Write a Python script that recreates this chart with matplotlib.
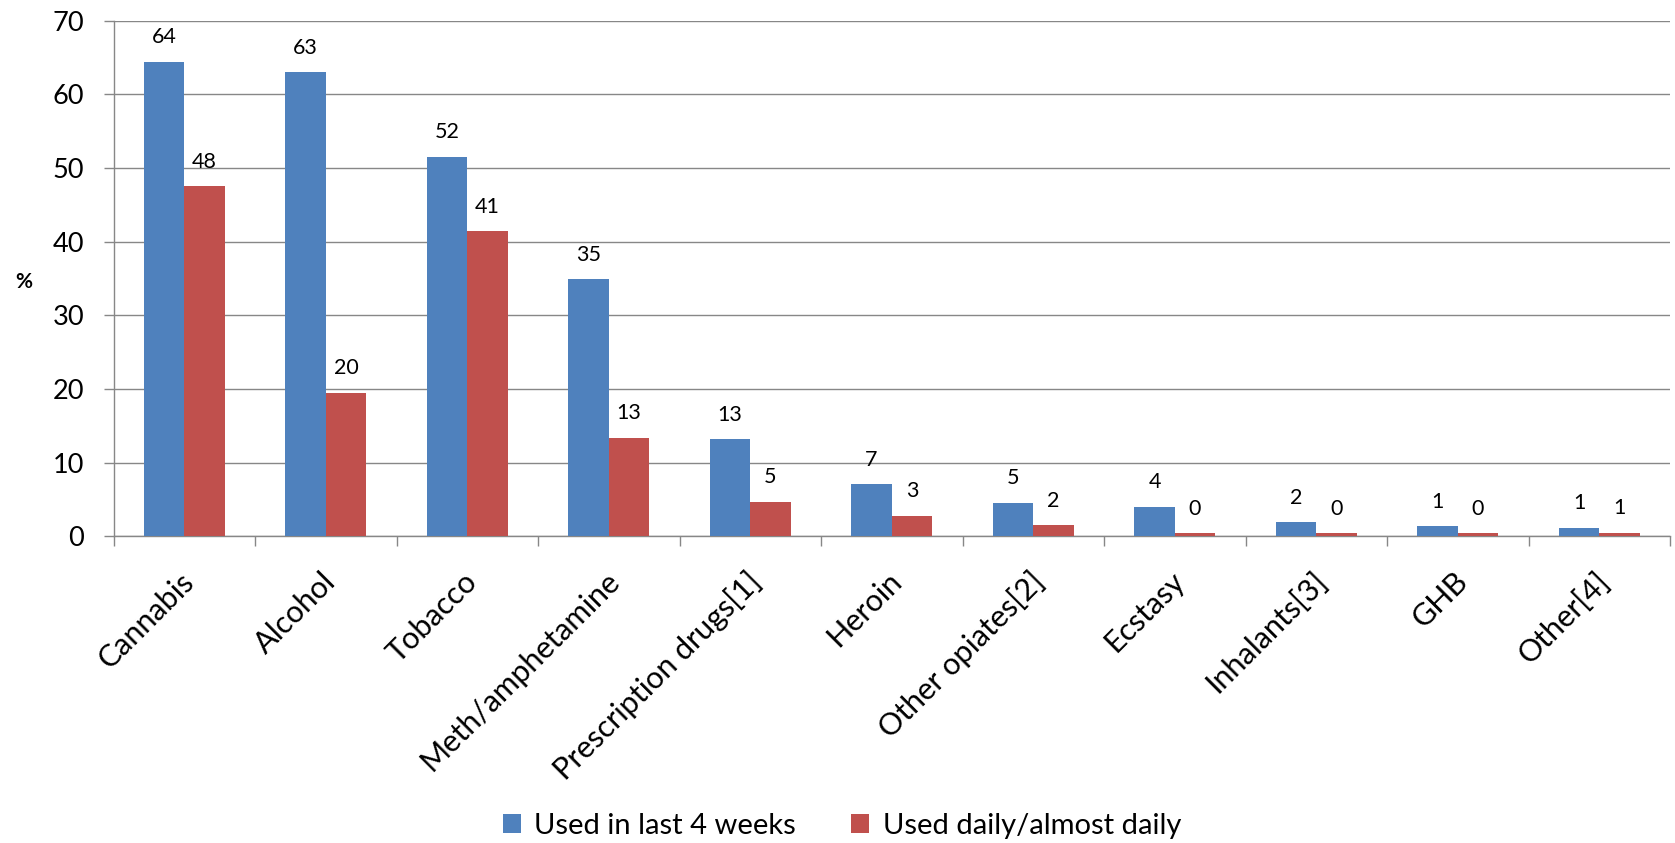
import numpy as np
import matplotlib
matplotlib.use("Agg")
import matplotlib.pyplot as plt
import matplotlib.transforms as mtransforms
from matplotlib.patches import Patch

plt.rcParams["font.family"] = ["Lato", "DejaVu Sans"]

CATEGORIES = ["Cannabis", "Alcohol", "Tobacco", "Meth/amphetamine",
              "Prescription drugs[1]", "Heroin", "Other opiates[2]",
              "Ecstasy", "Inhalants[3]", "GHB", "Other[4]"]
LAST_4_WEEKS = [64.4, 63.0, 51.5, 34.9, 13.2, 7.1, 4.6, 4.0, 1.9, 1.4, 1.2]
DAILY        = [47.5, 19.5, 41.4, 13.4, 4.7, 2.8, 1.5, 0.4, 0.4, 0.4, 0.52]
SERIES_NAMES = ["Used in last 4 weeks", "Used daily/almost daily"]
COLORS       = ["#4F81BD", "#C0504D"]
Y_TICKS      = [0, 10, 20, 30, 40, 50, 60, 70]

GRID = "#878787"

W, H = 1675, 843
fig = plt.figure(figsize=(W / 100, H / 100), dpi=100)
fig.patch.set_facecolor("white")
ax = fig.add_axes([113.5 / W, 1 - 536.4 / H, (1670 - 113.5) / W, (536.4 - 20.7) / H])

x = np.arange(len(CATEGORIES))
bw = 1 / 3.5

for i, (vals, color) in enumerate(zip([LAST_4_WEEKS, DAILY], COLORS)):
    xs = x + (i - 0.5) * bw
    ax.bar(xs, vals, width=bw, color=color, zorder=3)
    for xi, v in zip(xs, vals):
        ax.annotate(f"{v:.0f}", (xi, v), xytext=(0, 10.5), textcoords="offset points",
                    ha="center", va="bottom", fontsize=15.5, color="black")

ax.set_xlim(-0.5, len(CATEGORIES) - 0.5)
ax.set_ylim(0, 70)
ax.set_yticks(Y_TICKS)
ax.yaxis.grid(True, color=GRID, linewidth=1.0, zorder=0)
ax.set_axisbelow(True)

for side in ["top", "right"]:
    ax.spines[side].set_visible(False)
for side in ["left", "bottom"]:
    ax.spines[side].set_color(GRID)
    ax.spines[side].set_linewidth(1.0)

ax.tick_params(axis="y", direction="out", length=7, width=1.0, color=GRID,
               labelsize=19.5, pad=14)

# category boundaries get the tick marks, names sit at the centres
ax.set_xticks(x)
ax.set_xticks(np.arange(-0.5, len(CATEGORIES)), minor=True)
ax.tick_params(axis="x", which="major", length=0, labelsize=22, pad=22)
ax.tick_params(axis="x", which="minor", direction="out", length=7, width=1.0, color=GRID)
ax.set_xticklabels(CATEGORIES, rotation=45, ha="right", rotation_mode="anchor")
shift = mtransforms.ScaledTranslation(-3 / 72, 0, fig.dpi_scale_trans)
for lab in ax.get_xticklabels():
    lab.set_transform(lab.get_transform() + shift)

fig.text(24 / W, 1 - 282 / H, "%", fontsize=15, fontweight="bold", ha="center", va="center")

handles = [Patch(facecolor=c, edgecolor="none") for c in COLORS]
fig.legend(handles, SERIES_NAMES, loc="center", bbox_to_anchor=(842 / W, 1 - 826 / H),
           ncol=2, frameon=False, fontsize=21, handlelength=0.62, handleheight=0.62,
           handletextpad=0.45, columnspacing=1.9)

fig.savefig("out.png", dpi=100, facecolor="white")
